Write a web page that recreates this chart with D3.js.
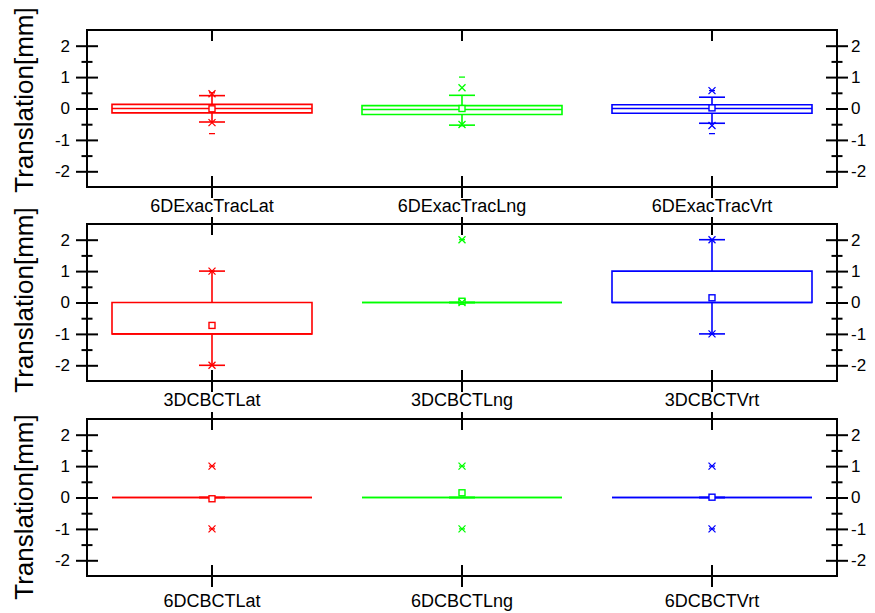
<!DOCTYPE html>
<html>
<head>
<meta charset="utf-8">
<script src="https://cdn.jsdelivr.net/npm/d3@7"></script>
<style>
  body { margin: 0; background: #fff; }
  svg { display: block; font-family: "Liberation Sans", Arial, sans-serif; }
</style>
</head>
<body>
<svg id="chart" width="875" height="613"></svg>
<script>
// データ
const panelNames = ["6DExacTrac", "3DCBCT", "6DCBCT"];
const directions = ["Lat", "Lng", "Vrt"];
const yTicks = [-2, -1, 0, 1, 2];
const yMinorTicks = [-2.5, -1.5, -0.5, 0.5, 1.5, 2.5];

// 各パネル × 方向 (Lat, Lng, Vrt)
const q1Vals = [[-0.14, -0.19, -0.15], [-1, 0, 0], [0, 0, 0]];
const medianVals = [[0, -0.03, 0], [-1, 0, 0], [0, 0, 0]];
const q3Vals = [[0.13, 0.09, 0.12], [0, 0, 1], [0, 0, 0]];
const whiskerLow = [[-0.43, -0.53, -0.47], [-2, 0, -1], [0, 0, 0]];
const whiskerHigh = [[0.41, 0.42, 0.36], [1, 0, 2], [0, 0, 0]];
const pct1Vals = [[-0.45, -0.51, -0.54], [-2, 0, -1], [-1, -1, -1]];
const pct99Vals = [[0.47, 0.66, 0.57], [1, 2, 2], [1, 1, 1]];
const minVals = [[-0.8, -0.55, -0.8], [-2, 0, -1], [-1, -1, -1]];
const maxVals = [[0.5, 1.0, 0.57], [1, 2, 2], [1, 1, 1]];
const meanVals = [[-0.01, 0, 0.02], [-0.73, 0.04, 0.15], [-0.04, 0.15, 0.01]];

const colors = ["#ff0000", "#00ff00", "#0000ff"];

// レイアウト
const left = 87, right = 837;
const panelTops = [30, 224, 419];
const panelH = 157;
const labelOffsets = [25, 25, 31];
const titleCenters = [100, 300, 507];

const svg = d3.select("#chart");

const x = d3.scaleBand().domain(directions).range([left, right]).padding(0);
const boxW = x.bandwidth() * 0.8;
const capW = 26;

panelNames.forEach((name, p) => {
  const top = panelTops[p];
  const y = d3.scaleLinear().domain([-2.5, 2.5]).range([top + panelH, top]);
  const g = svg.append("g");

  // 枠
  g.append("rect")
    .attr("x", left).attr("y", top)
    .attr("width", right - left).attr("height", panelH)
    .attr("fill", "none").attr("stroke", "#000").attr("stroke-width", 2);

  // 左軸
  const yl = g.append("g").attr("transform", `translate(${left},0)`)
    .call(d3.axisLeft(y).tickValues(yTicks).tickSize(11).tickFormat(d => String(d)));
  yl.selectAll("line").attr("x1", -11).attr("x2", 11);
  yl.selectAll("text").attr("x", -17);
  const ylm = g.append("g").attr("transform", `translate(${left},0)`)
    .call(d3.axisLeft(y).tickValues(yMinorTicks.filter(v => v > -2.5 && v < 2.5)).tickSize(5).tickFormat(""));
  ylm.selectAll("line").attr("x1", -5.5).attr("x2", 5.5);

  // 右軸
  const yr = g.append("g").attr("transform", `translate(${right},0)`)
    .call(d3.axisRight(y).tickValues(yTicks).tickSize(11).tickFormat(d => String(d)));
  yr.selectAll("line").attr("x1", -11).attr("x2", 11);
  yr.selectAll("text").attr("x", 14);
  const yrm = g.append("g").attr("transform", `translate(${right},0)`)
    .call(d3.axisRight(y).tickValues(yMinorTicks.filter(v => v > -2.5 && v < 2.5)).tickSize(5).tickFormat(""));
  yrm.selectAll("line").attr("x1", -5.5).attr("x2", 5.5);

  // 下軸
  const xb = g.append("g").attr("transform", `translate(0,${top + panelH})`)
    .call(d3.axisBottom(x).tickSize(11).tickFormat(d => name + d));
  xb.selectAll("line").attr("y1", -11).attr("y2", 11);
  xb.selectAll("text").attr("y", labelOffsets[p]).attr("dy", 0);

  // 上軸
  const xt = g.append("g").attr("transform", `translate(0,${top})`)
    .call(d3.axisTop(x).tickSize(11).tickFormat(""));
  xt.selectAll("line").attr("y1", 11).attr("y2", p === 0 ? 0 : -7);

  g.selectAll(".domain").remove();
  g.selectAll(".tick line").attr("stroke", "#000").attr("stroke-width", 2);
  g.selectAll(".tick text").attr("fill", "#000").style("font-size", "17px");
  xb.selectAll(".tick text").style("font-size", "18px");

  // 箱ひげ
  directions.forEach((d, i) => {
    const cx = x(d) + x.bandwidth() / 2;
    const col = colors[i];
    const b = g.append("g").attr("stroke", col).attr("fill", "none").attr("stroke-width", 1.6);
    const x0 = cx - boxW / 2, x1 = cx + boxW / 2;

    // whiskers
    b.append("line").attr("x1", cx).attr("x2", cx)
      .attr("y1", y(q3Vals[p][i])).attr("y2", y(whiskerHigh[p][i]));
    b.append("line").attr("x1", cx).attr("x2", cx)
      .attr("y1", y(q1Vals[p][i])).attr("y2", y(whiskerLow[p][i]));
    [whiskerHigh[p][i], whiskerLow[p][i]].forEach(v => {
      b.append("line").attr("x1", cx - capW / 2).attr("x2", cx + capW / 2)
        .attr("y1", y(v)).attr("y2", y(v));
    });

    // box
    b.append("path")
      .attr("d", `M${x0},${y(q3Vals[p][i])}H${x1}V${y(q1Vals[p][i])}H${x0}Z`);
    b.append("line").attr("x1", x0).attr("x2", x1)
      .attr("y1", y(medianVals[p][i])).attr("y2", y(medianVals[p][i]));

    // mean
    b.append("rect")
      .attr("x", cx - 3).attr("y", y(meanVals[p][i]) - 3)
      .attr("width", 6).attr("height", 6)
      .attr("fill", "#fff").attr("stroke-width", 1.4);

    // 1% / 99%
    [pct1Vals[p][i], pct99Vals[p][i]].forEach(v => {
      const yy = y(v);
      b.append("path")
        .attr("d", `M${cx - 3.5},${yy - 3.5}L${cx + 3.5},${yy + 3.5}M${cx - 3.5},${yy + 3.5}L${cx + 3.5},${yy - 3.5}`)
        .attr("stroke-width", 1.3);
    });

    // min / max
    [minVals[p][i], maxVals[p][i]].forEach(v => {
      b.append("line").attr("x1", cx - 3).attr("x2", cx + 3)
        .attr("y1", y(v)).attr("y2", y(v)).attr("stroke-width", 1.3);
    });
  });

  // y タイトル
  svg.append("text")
    .attr("transform", `translate(33,${titleCenters[p]}) rotate(-90)`)
    .attr("text-anchor", "middle")
    .style("font-size", "26px")
    .text("Translation[mm]");
});
</script>
</body>
</html>
